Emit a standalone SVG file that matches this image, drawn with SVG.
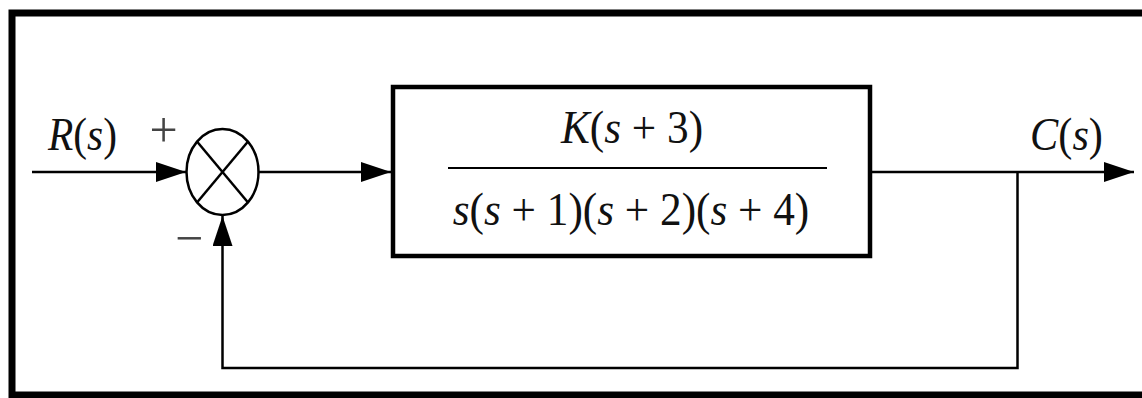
<svg xmlns="http://www.w3.org/2000/svg" width="1142" height="398" viewBox="0 0 1142 398">
<style>
.txt{font-family:"Liberation Serif","Times New Roman",serif;font-size:46px;fill:#111;}
.it{font-style:italic;}
.sign{font-family:"Liberation Serif","Times New Roman",serif;font-size:50px;fill:#444;}
.ln{stroke:#000;stroke-width:2.5;fill:none;}
</style>
<defs>
<marker id="arr" viewBox="0 0 30 20" refX="30" refY="10" markerWidth="30" markerHeight="20" markerUnits="userSpaceOnUse" orient="auto">
<path d="M0,0 L30,10 L0,20 Z" fill="#000"/>
</marker>
</defs>
<rect width="1142" height="398" fill="#fff"/>
<rect id="frame" x="12" y="13" width="1150" height="382" fill="none" stroke="#000" stroke-width="7"/>
<g id="sum">
<ellipse cx="222.5" cy="172" rx="36" ry="43" fill="#fff" stroke="#000" stroke-width="2.5"/>
<line class="ln" x1="197" y1="141.5" x2="248" y2="202.5"/>
<line class="ln" x1="248" y1="141.5" x2="197" y2="202.5"/>
<text class="sign" x="163.5" y="147" text-anchor="middle">+</text>
<text class="sign" x="189" y="255" text-anchor="middle">−</text>
</g>
<g id="plant">
<rect x="393" y="87" width="477" height="169" fill="#fff" stroke="#000" stroke-width="4.5"/>
<line x1="448" y1="168" x2="827" y2="168" stroke="#000" stroke-width="2"/>
<text class="txt" text-anchor="middle" transform="translate(632,143) scale(0.94,1)"><tspan class="it">K</tspan>(<tspan class="it">s</tspan> + 3)</text>
<text class="txt" text-anchor="middle" transform="translate(631,225) scale(0.94,1)"><tspan class="it">s</tspan>(<tspan class="it">s</tspan> + 1)(<tspan class="it">s</tspan> + 2)(<tspan class="it">s</tspan> + 4)</text>
</g>
<g id="labels">
<text class="txt" text-anchor="middle" transform="translate(82.5,150) scale(0.9,1)"><tspan class="it">R</tspan>(<tspan class="it">s</tspan>)</text>
<text class="txt" text-anchor="middle" transform="translate(1066.5,150) scale(0.92,1)"><tspan class="it">C</tspan>(<tspan class="it">s</tspan>)</text>
</g>
<g id="connectors">
<line class="ln" x1="32" y1="172" x2="186" y2="172" marker-end="url(#arr)"/>
<line class="ln" x1="258.5" y1="172" x2="391" y2="172" marker-end="url(#arr)"/>
<line class="ln" x1="872" y1="172" x2="1134" y2="172" marker-end="url(#arr)"/>
<polyline class="ln" points="1017.5,172 1017.5,368 222.5,368 222.5,216" marker-end="url(#arr)"/>
</g>
</svg>
